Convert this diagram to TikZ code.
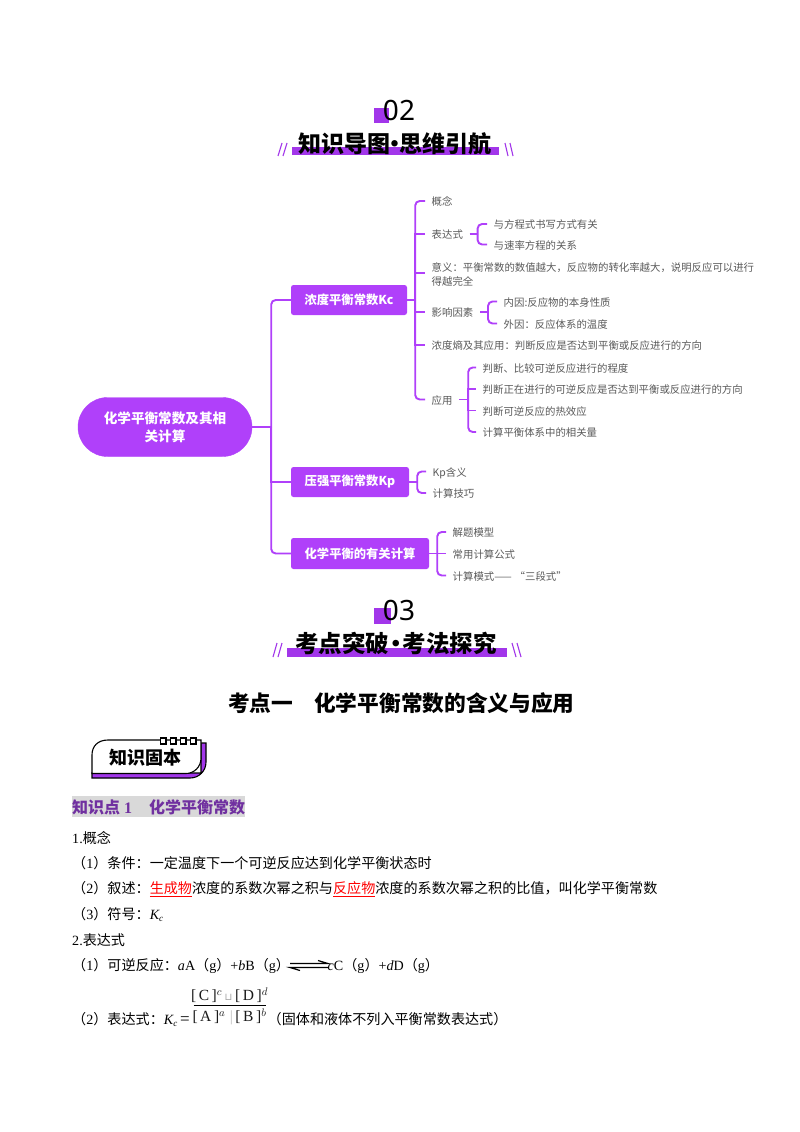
\documentclass[tikz,border=0pt]{standalone}
\usepackage{fontspec}
\setmainfont{Noto Sans CJK SC}
\newfontfamily\latinf{Liberation Serif}
\newfontfamily\digitfont{Noto Sans}
\newfontfamily\symfont{DejaVu Sans}
\definecolor{mapv}{HTML}{B040FA}
\definecolor{headv}{HTML}{A236EA}
\definecolor{labelg}{HTML}{5A5A5A}
\definecolor{subv}{HTML}{7030A0}
\definecolor{hilite}{HTML}{D9D9D9}
\newcommand{\fsz}[2]{\fontsize{#1}{#2}\selectfont}
\newcommand{\Lr}[1]{{\latinf #1}}
\newcommand{\Lit}[1]{{\latinf\itshape #1}}
\tikzset{
  x=1pt,y=-1pt,
  rootbox/.style={fill=mapv,draw=mapv,rounded corners=29.5pt,text=white,font=\fsz{13.6}{18}\bfseries,align=center,inner sep=0pt,minimum width=174pt,minimum height=59pt},
  mainbox/.style={fill=mapv,rounded corners=2.5pt,text=white,font=\fsz{12.3}{16}\bfseries,align=center,inner sep=0pt,minimum height=30pt},
  leaf/.style={anchor=west,text=labelg,font=\fsz{10.4}{14},align=left,inner xsep=6.5pt,inner ysep=0pt,text height=10pt,text depth=1pt},
  wrapleaf/.style={anchor=west,text=labelg,font=\fsz{10.4}{14},align=left,inner xsep=6.5pt,inner ysep=0pt},
  conn/.style={draw=mapv,line width=1.9pt,rounded corners=4.5pt},
  connT/.style={draw=mapv,line width=1.9pt},
  headbar/.style={fill=headv},
  hash/.style={draw=headv,line width=1.1pt},
  bignum/.style={font=\digitfont\fsz{28}{30},text=black,inner sep=0pt},
  headtitle/.style={font=\fsz{23}{24}\bfseries,text=black,inner sep=0pt},
  bodyline/.style={anchor=west,font=\fsz{14.1}{16},text=black,inner sep=0pt},
  fracpart/.style={font=\latinf\fsz{15.5}{16},text=black!90,inner sep=0pt},
}
\begin{document}
\begin{tikzpicture}
\useasboundingbox[fill=white] (0,0) rectangle (800,1132);

% heading 02
\fill[headbar] (374,108) rectangle (389,123);
\node[bignum] (n02) at (399,110) {02};
\fill[headbar] (292,147) rectangle (499,155);
\draw[hash] (278,156)--(282,143) (283,156)--(287,143) (505,143)--(508,156) (510,143)--(513,156);
\node[headtitle] (t02) at (395,144) {知识导图\hspace{-7pt}·\hspace{-7pt}思维引航};

% mind map
\node[rootbox] (root) at (165,427) {化学平衡常数及其相\\关计算};
\node[mainbox,minimum width=116pt] (kc) at (349,300) {浓度平衡常数Kc};
\node[mainbox,minimum width=118pt] (kp) at (350,482) {压强平衡常数Kp};
\node[mainbox,minimum width=138pt,minimum height=31pt] (calc) at (360,553.5) {化学平衡的有关计算};

\node[leaf] (a1) at (425,201) {概念};
\node[leaf] (a2) at (425,234) {表达式};
\node[wrapleaf] (a3) at (425,275) {意义：平衡常数的数值越大，反应物的转化率越大，说明反应可以进行\\得越完全};
\node[leaf] (a4) at (425,312) {影响因素};
\node[leaf] (a5) at (425,345) {浓度熵及其应用：判断反应是否达到平衡或反应进行的方向};
\node[leaf] (a6) at (425,399.5) {应用};

\node[leaf] (b1) at (487,224) {与方程式书写方式有关};
\node[leaf] (b2) at (487,244.5) {与速率方程的关系};
\node[leaf] (c1) at (497,301.5) {内因:反应物的本身性质};
\node[leaf] (c2) at (497,323.5) {外因：反应体系的温度};
\node[leaf] (d1) at (476,367.5) {判断、比较可逆反应进行的程度};
\node[leaf] (d2) at (476,389) {判断正在进行的可逆反应是否达到平衡或反应进行的方向};
\node[leaf] (d3) at (476,410.5) {判断可逆反应的热效应};
\node[leaf] (d4) at (476,432) {计算平衡体系中的相关量};

\node[leaf] (e1) at (426,471.5) {Kp含义};
\node[leaf] (e2) at (426,493) {计算技巧};
\node[leaf] (f1) at (446,532) {解题模型};
\node[leaf] (f2) at (446,553.5) {常用计算公式};
\node[leaf] (f3) at (446,575.5) {计算模式——\hspace{3pt}“三段式”\hspace{1pt}};

\coordinate (rs) at ([xshift=19pt]root.east);
\coordinate (ks) at ([xshift=8pt]kc.east);
\coordinate (as2) at ([xshift=8pt]a2.east);
\coordinate (as4) at ([xshift=8pt]a4.east);
\coordinate (as6) at ([xshift=9pt]a6.east);
\coordinate (ps) at ([xshift=8pt]kp.east);
\coordinate (cs) at ([xshift=8pt]calc.east);

\draw[connT] (root.east) -- (rs);
\draw[conn] (rs) |- (kc.west);
\draw[conn] (rs) |- (calc.west);
\draw[connT] (rs) |- (kp.west);

\draw[connT] (kc.east) -- (ks);
\draw[conn] (ks) |- (a1.west);
\draw[conn] (ks) |- (a6.west);
\draw[connT] (ks) |- (a2.west);
\draw[connT] (ks) |- ([yshift=2pt]a3.west);
\draw[connT] (ks) |- (a4.west);
\draw[connT] (ks) |- (a5.west);

\draw[connT] (a2.east) -- (as2);
\draw[conn] (as2) |- (b1.west);
\draw[conn] (as2) |- (b2.west);
\draw[connT] (a4.east) -- (as4);
\draw[conn] (as4) |- (c1.west);
\draw[conn] (as4) |- (c2.west);

\draw[connT] (a6.east) -- (as6);
\draw[conn] (as6) |- (d1.west);
\draw[conn] (as6) |- (d4.west);
\draw[connT] (as6) |- (d2.west);
\draw[connT] (as6) |- (d3.west);

\draw[connT] (kp.east) -- (ps);
\draw[conn] (ps) |- (e1.west);
\draw[conn] (ps) |- (e2.west);
\draw[connT] (calc.east) -- (f2.west);
\draw[conn] (cs) |- (f1.west);
\draw[conn] (cs) |- (f3.west);

% heading 03
\fill[headbar] (374,608) rectangle (391,624);
\node[bignum] (n03) at (399,610) {03};
\fill[headbar] (287,648) rectangle (507,657);
\draw[hash] (273,657)--(277,643) (278,657)--(282,643) (512,643)--(516,657) (517,643)--(521,657);
\node[headtitle,font=\fsz{23.5}{26}\bfseries] (t03) at (396,643) {考点突破\hspace{-5pt}·\hspace{-5pt}考法探究};

% section title
\node[anchor=west,font=\fsz{21.7}{24}\bfseries,inner sep=0pt] (sect) at (228,703) {考点一\hspace{21pt}化学平衡常数的含义与应用};

% badge
\filldraw[fill=headv,draw=black,line width=1.1pt]
  (92,773) -- (92,778) -- (190,778) .. controls (199,778) and (206,771) .. (206,762) -- (206,743) -- (201,743) -- (201,773) -- cycle;
\filldraw[fill=white,draw=black,line width=1.1pt]
  (92,773.5) -- (92,755) .. controls (92,746) and (98,740) .. (108,740) -- (201,740) -- (201,758) .. controls (201,767) and (194,773.5) .. (186,773.5) -- cycle;
\foreach \sx in {160.5,170.5,180.5,190.5}
  \filldraw[fill=white,draw=black,line width=1.5pt] (\sx,738) rectangle ++(5.5,6);
\node[font=\fsz{18}{20}\bfseries,inner sep=0pt] (badge) at (145.5,757.5) {知识固本};

% knowledge point
\fill[hilite] (72,796) rectangle (245,817);
\node[anchor=west,font=\fsz{16}{18}\bfseries,text=subv,inner sep=0pt] (kp1) at (72,807) {知识点{\latinf\bfseries\ 1}};
\node[anchor=west,font=\fsz{16}{18}\bfseries,text=subv,inner sep=0pt] (kp2) at (149,807) {化学平衡常数};

% body
\node[bodyline] (l1) at (72,838) {\Lr{1.}概念};
\node[bodyline] (l2) at (72,863.5) {（\Lr{1}）条件：一定温度下一个可逆反应达到化学平衡状态时};
\node[bodyline] (l3) at (72,889) {（\Lr{2}）叙述：\textcolor{red}{\underline{生成物}}浓度的系数次幂之积与\textcolor{red}{\underline{反应物}}浓度的系数次幂之积的比值，叫化学平衡常数};
\node[bodyline] (l4) at (72,914.5) {（\Lr{3}）符号：\Lit{K}{\latinf\fsz{9}{10}\raisebox{-2pt}{\itshape c}}};
\node[bodyline] (l5) at (72,940) {\Lr{2.}表达式};
\node[bodyline] (l6) at (72,966) {（\Lr{1}）可逆反应：\Lit{a}\Lr{A}（\Lr{g}）\Lr{+}\Lit{b}\Lr{B}（\Lr{g}）};
\node[bodyline] (l6b) at (327.5,966) {\Lit{c}\Lr{C}（\Lr{g}）\Lr{+}\Lit{d}\Lr{D}（\Lr{g}）};
\draw[black,line width=1.2pt] (290,963.5) -- (328,963.5) -- (318,960.5);
\draw[black,line width=1.2pt] (328,967.5) -- (290,967.5) -- (300,970.5);

\node[bodyline] (l7) at (72,1019.5) {（\Lr{2}）表达式：\Lit{K}{\latinf\fsz{9}{10}\raisebox{-2pt}{\itshape c}}{\latinf\fsz{17}{17}\,=}};
\node[fracpart] (numer) at (229.5,995) {[\,C\,]$^{c}$\,{\symfont\textcolor{black!35}{\fsz{10}{10}⊔}}\,[\,D\,]$^{d}$};
\node[fracpart] (denom) at (229.5,1016.5) {[\,A\,]$^{a}$\;\textcolor{black!25}{|}\,[\,B\,]$^{b}$};
\draw[black,line width=0.7pt] (193.5,1005.5) -- (266,1005.5);
\node[bodyline] (l7b) at (267.5,1019.5) {（固体和液体不列入平衡常数表达式）};
\end{tikzpicture}
\end{document}
